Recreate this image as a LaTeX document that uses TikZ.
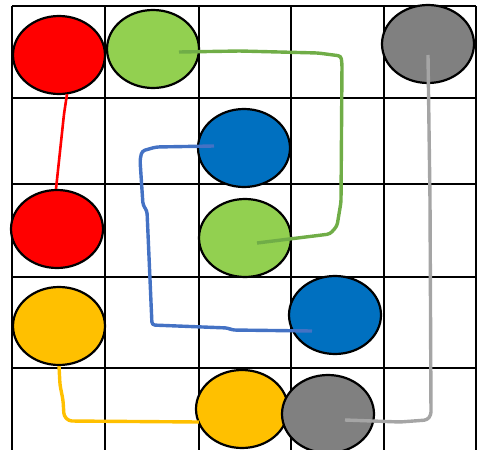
\documentclass[tikz,border=0pt]{standalone}
\usepackage{xcolor}
\usepackage{tikz}
\usetikzlibrary{shapes.geometric,calc}

\definecolor{redfill}{HTML}{FF0000}
\definecolor{greenfill}{HTML}{92D050}
\definecolor{greenline}{HTML}{70AD47}
\definecolor{bluefill}{HTML}{0070C0}
\definecolor{blueline}{HTML}{4472C4}
\definecolor{yellowfill}{HTML}{FFC000}
\definecolor{grayfill}{HTML}{808080}
\definecolor{grayline}{HTML}{A5A5A5}

\begin{document}
\begin{tikzpicture}[
    x=1pt, y=-1pt,
    disc/.style={ellipse, draw=black, line width=2.2pt, minimum width=92pt, minimum height=78pt, inner sep=0pt},
    gridline/.style={line width=2pt, draw=black},
    wire/.style={line width=3.4pt, line join=round, rounded corners=3pt}
]
    \useasboundingbox (0,0) rectangle (477,450);

    % Board grid
    \foreach \gx in {12,105,199,291,384,476}
        \draw [gridline] (\gx,6) -- (\gx,450);
    \foreach \gy in {6,98,184,277,368}
        \draw [gridline] (12,\gy) -- (476,\gy);

    % Dots: top rows
    \node (r1) at (59,55) [disc, fill=redfill] {};
    \node (g1) at (153,49) [disc, fill=greenfill] {};
    \node (k1) at (428,44) [disc, fill=grayfill] {};
    \node (b1) at (244,148) [disc, fill=bluefill] {};

    % Dots: middle rows
    \node (r2) at (57,229) [disc, fill=redfill] {};
    \node (g2) at (245,238) [disc, fill=greenfill] {};
    \node (y1) at (59,326) [disc, fill=yellowfill] {};
    \node (b2) at (335,315) [disc, fill=bluefill] {};

    % Dots: bottom row
    \node (y2) at (242,409) [disc, fill=yellowfill] {};
    \node (k2) at (328,414) [disc, fill=grayfill] {};

    % 1. Red link
    \draw [wire, draw=redfill, line width=2.6pt] ($(r1.south)+(8,-1)$) -- ++(-3,20) -- ($(r2.north)+(-1,0)$);

    % 2. Green link
    \draw [wire, draw=greenline] ($(g1.center)+(26,3)$) -- (240,51) -- (318,53) -- (341,56) -- (342,64)
        -- (341,202) -- (337,226) -- (330,234) -- ($(g2.center)+(12,5)$);

    % 3. Blue link
    \draw [wire, draw=blueline] ($(b1.center)+(-30,-2)$) -- (156,147) -- (142,151) -- (140,160)
        -- (143,205) -- (147,211) -- (152,325) -- (228,328) -- (232,330) -- ($(b2.center)+(-23,16)$);

    % 4. Yellow link
    \draw [wire, draw=yellowfill] (y1.south) -- (60,385) -- (63,400) -- (64,416) -- (69,421) -- ($(y2.west)+(4,13)$);

    % 5. Gray link
    \draw [wire, draw=grayline] ($(k2.center)+(17,6)$) -- (400,422) -- (427,420) -- (431,415) -- (430,200) -- ($(k1.center)+(0,11)$);

\end{tikzpicture}
\end{document}
